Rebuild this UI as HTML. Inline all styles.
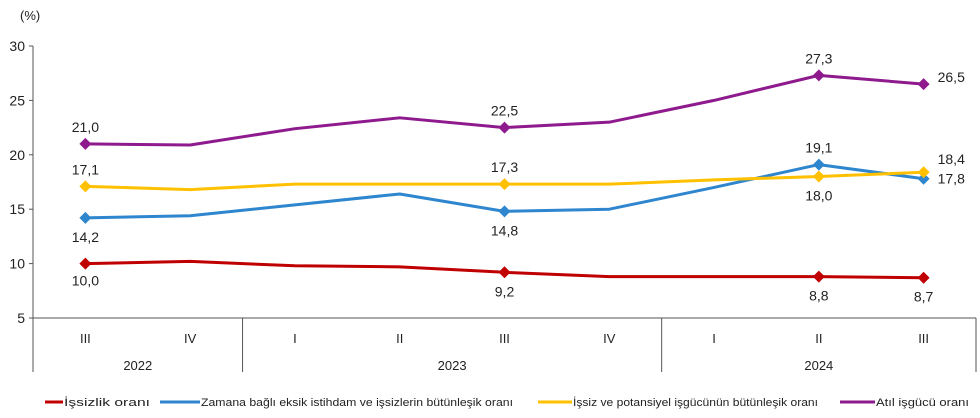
<!DOCTYPE html>
<html><head><meta charset="utf-8"><style>
body{margin:0;background:#fff}
svg{display:block;font-family:"Liberation Sans",Arial,sans-serif}
</style></head><body>
<svg id="chart" width="980" height="418" viewBox="0 0 980 418"></svg>
<script>
const categories=["III","IV","I","II","III","IV","I","II","III"];
const years=["2022","2023","2024"];
const yearSpans=[[0,2],[2,6],[6,9]];
const yTicks=[5,10,15,20,25,30];
const unemployment=[10.0,10.2,9.8,9.7,9.2,8.8,8.8,8.8,8.7];
const timeRelated=[14.2,14.4,15.4,16.4,14.8,15.0,17.0,19.1,17.8];
const potential=[17.1,16.8,17.3,17.3,17.3,17.3,17.7,18.0,18.4];
const underutil=[21.0,20.9,22.4,23.4,22.5,23.0,25.0,27.3,26.5];
const seriesNames=["İşsizlik oranı","Zamana bağlı eksik istihdam ve işsizlerin bütünleşik oranı","İşsiz ve potansiyel işgücünün bütünleşik oranı","Atıl işgücü oranı"];
const labeledIdx=[0,4,7,8];

const NS="http://www.w3.org/2000/svg";
const svg=document.getElementById('chart');
function el(t,a,p){const e=document.createElementNS(NS,t);for(const k in a)e.setAttribute(k,a[k]);(p||svg).appendChild(e);return e;}
const x0=33,x1=976,yTop=46,yBot=318;
const step=(x1-x0)/categories.length;
const xs=i=>x0+step*(i+0.5);
const ys=v=>yBot-(v-5)/25*(yBot-yTop);

let t=el('text',{x:20,y:20,'font-size':13,fill:'#222'});t.textContent='(%)';

let l=el('line',{x1:x0,y1:yTop,x2:x0,y2:yBot,stroke:'#555','stroke-width':1});

yTicks.forEach(v=>{
 el('line',{x1:x0-4,y1:ys(v),x2:x0,y2:ys(v),stroke:'#555'});
 const tt=el('text',{x:x0-8,y:ys(v)+5,'font-size':14,'text-anchor':'end',fill:'#222'});tt.textContent=v;
 
});
l=el('line',{x1:x0,y1:yBot,x2:x1,y2:yBot,stroke:'#555'});

categories.forEach((c,i)=>{
 const tt=el('text',{x:xs(i),y:343,'font-size':13,'text-anchor':'middle',fill:'#222'});tt.textContent=c;
 
});
yearSpans.forEach((s,j)=>{
 el('line',{x1:x0+step*s[0],y1:yBot,x2:x0+step*s[0],y2:372,stroke:'#555'});
 if(j===yearSpans.length-1)el('line',{x1:x0+step*s[1],y1:yBot,x2:x0+step*s[1],y2:372,stroke:'#555'});
 const tt=el('text',{x:(x0+step*s[0]+x0+step*s[1])/2,y:370,'font-size':13,'text-anchor':'middle',fill:'#222'});tt.textContent=years[j];
 
});
const series=[
 {d:unemployment,c:'#c00000',n:'unemployment',off:[22,24,24,24]},
 {d:timeRelated,c:'#2e86cf',n:'time-related',off:[24,24,-12,[14,5]]},
 {d:potential,c:'#ffc000',n:'potential',off:[-12,-12,24,[14,-8]]},
 {d:underutil,c:'#8e1a8e',n:'underutilization',off:[-12,-12,-12,[14,-2]]}];
series.forEach(s=>{
 const p=el('polyline',{points:s.d.map((v,i)=>xs(i)+','+ys(v)).join(' '),fill:'none',stroke:s.c,'stroke-width':3,'stroke-linejoin':'round'});
 
 labeledIdx.forEach((i,k)=>{
  const cx=xs(i),cy=ys(s.d[i]);
  const m=el('polygon',{points:`${cx},${cy-6} ${cx+6},${cy} ${cx},${cy+6} ${cx-6},${cy}`,fill:s.c});
  
  const o=s.off[k];let dx=0,dy=o,anc='middle';
  if(Array.isArray(o)){dx=o[0];dy=o[1];anc='start';}
  const tt=el('text',{x:cx+dx,y:cy+dy,'font-size':14,'text-anchor':anc,fill:'#222'});
  tt.textContent=s.d[i].toFixed(1).replace('.',',');
  
 });
});
const lx=[45,160,538,840];
const lw=[18,40,34,35];
const tw=[86,312,245,93];
series.forEach((s,i)=>{
 const g=el('g',{});
 
 el('line',{x1:lx[i],y1:402,x2:lx[i]+lw[i],y2:402,stroke:s.c,'stroke-width':3},g);
 const tt=el('text',{x:lx[i]+lw[i]+1,y:406,'font-size':11,fill:'#222',textLength:tw[i],lengthAdjust:'spacingAndGlyphs'},g);tt.textContent=seriesNames[i];
});
</script>
</body></html>
